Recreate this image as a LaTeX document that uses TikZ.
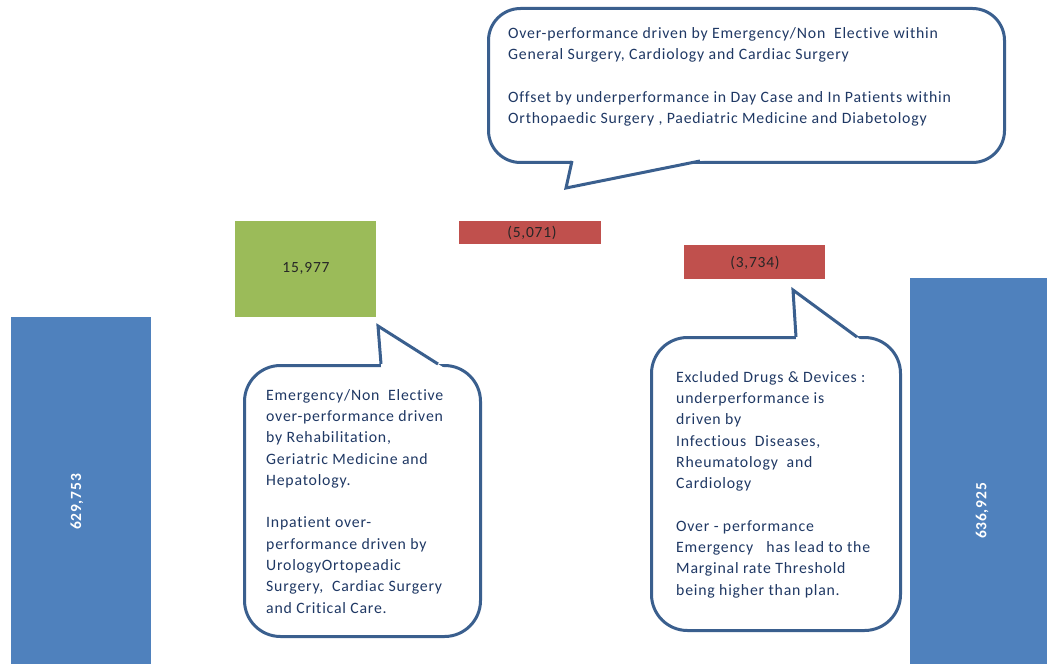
\documentclass[tikz,border=0pt]{standalone}
\usepackage{fontspec}
\setmainfont{Carlito}
\newfontfamily\callfont[LetterSpace=5,Ligatures=NoCommon]{Carlito}
\usetikzlibrary{calc}
\definecolor{barblue}{HTML}{4F81BD}
\definecolor{bargreen}{HTML}{9BBB59}
\definecolor{barred}{HTML}{C0504D}
\definecolor{callborder}{HTML}{3A5F8E}
\definecolor{calltext}{HTML}{1F3864}
\begin{document}
\begin{tikzpicture}[x=1pt,y=-1pt,
  bar/.style={draw=none, inner sep=0pt, anchor=north west},
  barlabel/.style={inner sep=0pt, font=\callfont\fontsize{15.5}{18}\selectfont},
  callbox/.style={draw=callborder, line width=3pt, fill=white, rounded corners=32pt, inner sep=0pt, anchor=north west},
  tailline/.style={draw=callborder, line width=3pt, line join=miter},
  calltxt/.style={inner sep=0pt, anchor=north west, align=left, text=calltext, font=\callfont\fontsize{15.8}{21.3}\selectfont}
]
\useasboundingbox[fill=white] (0,0) rectangle (1047,666);

% bars
\node[bar, fill=barblue, minimum width=140pt, minimum height=347pt] (b1) at (11,317) {};
\node[bar, fill=bargreen, minimum width=141pt, minimum height=96pt] (b2) at (235,221) {};
\node[bar, fill=barred, minimum width=142pt, minimum height=23pt] (b3) at (459,221) {};
\node[bar, fill=barred, minimum width=141pt, minimum height=34pt] (b4) at (684,245) {};
\node[bar, fill=barblue, minimum width=137pt, minimum height=386pt] (b5) at (910,278) {};

\node[barlabel, text=white, rotate=90] (l1) at (77,502) {\bfseries 629,753};
\node[barlabel, text=black!85] (l2) at (306,268) {15,977};
\node[barlabel, text=black!85] (l3) at (532,233) {(5,071)};
\node[barlabel, text=black!85] (l4) at (755,263) {(3,734)};
\node[barlabel, text=white, rotate=90] (l5) at (982,511) {\bfseries 636,925};

% top callout
\node[callbox, minimum width=516pt, minimum height=154pt] (c1) at (487,7) {};
\coordinate (c1a) at (572,161);
\coordinate (c1t) at (566,188);
\coordinate (c1b) at (700,161);
\fill[white] ($(c1t)!1.15!(c1a)$) -- (c1t) -- ($(c1t)!1.15!(c1b)$) -- cycle;
\draw[tailline] (c1a) -- (c1t) -- (c1b);
\node[calltxt] (t1) at (508,27) {Over-performance driven by Emergency/Non\ \ Elective within\\
General Surgery, Cardiology and Cardiac Surgery\\[21.3pt]
Offset by underperformance in Day Case and In Patients within\\
Orthopaedic Surgery , Paediatric Medicine and Diabetology};

% left callout
\node[callbox, rounded corners=36pt, minimum width=236pt, minimum height=271pt] (c2) at (243,364) {};
\coordinate (c2a) at (381,364);
\coordinate (c2t) at (378,326);
\coordinate (c2b) at (438,364);
\fill[white] ($(c2t)!1.15!(c2a)$) -- (c2t) -- ($(c2t)!1.15!(c2b)$) -- cycle;
\draw[tailline] (c2a) -- (c2t) -- (c2b);
\node[calltxt] (t2) at (266,389) {Emergency/Non\ \ Elective\\
over-performance driven\\
by Rehabilitation,\\
Geriatric Medicine and\\
Hepatology.\\[21.3pt]
Inpatient over-\\
performance driven by\\
UrologyOrtopeadic\\
Surgery,\ \ Cardiac Surgery\\
and Critical Care.};

% right callout
\node[callbox, rounded corners=36pt, minimum width=249pt, minimum height=293pt] (c3) at (650,336) {};
\coordinate (c3a) at (796,337);
\coordinate (c3t) at (793,290);
\coordinate (c3b) at (857,337);
\fill[white] ($(c3t)!1.15!(c3a)$) -- (c3t) -- ($(c3t)!1.15!(c3b)$) -- cycle;
\draw[tailline] (c3a) -- (c3t) -- (c3b);
\node[calltxt] (t3) at (676,371) {Excluded Drugs \& Devices :\\
underperformance is\\
driven by\\
Infectious\ \ Diseases,\\
Rheumatology\ \ and\\
Cardiology\\[21.3pt]
Over - performance\\
Emergency\ \ \ has lead to the\\
Marginal rate Threshold\\
being higher than plan.};
\end{tikzpicture}
\end{document}
